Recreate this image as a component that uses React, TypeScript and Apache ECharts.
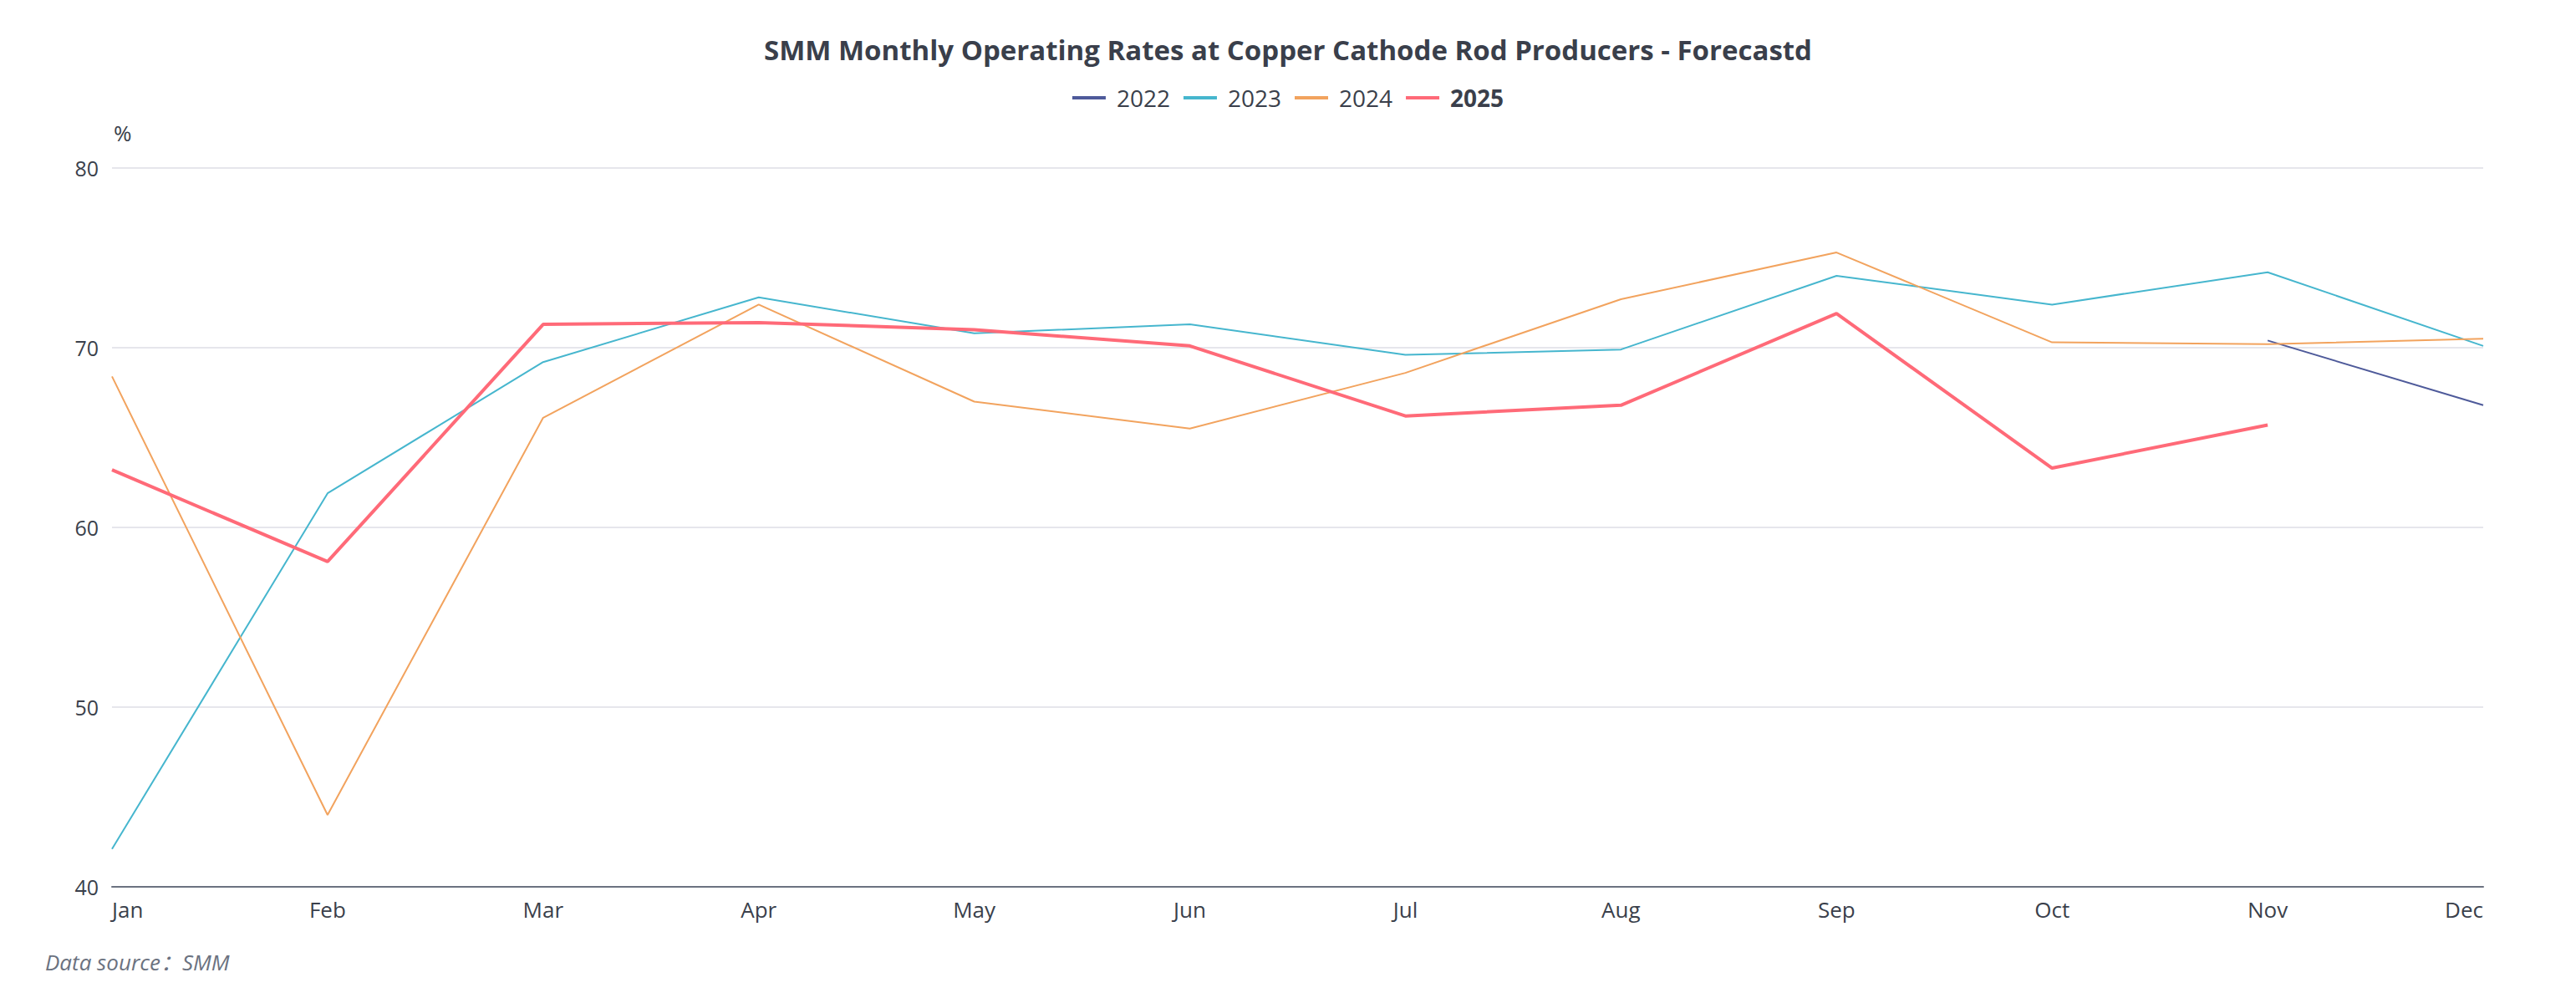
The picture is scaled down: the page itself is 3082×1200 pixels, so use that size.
import React, { useEffect, useRef } from "react";
import * as echarts from "echarts";

const months = ["Jan", "Feb", "Mar", "Apr", "May", "Jun", "Jul", "Aug", "Sep", "Oct", "Nov", "Dec"];
const seriesNames = ["2022", "2023", "2024", "2025"];
const data2022 = [null, null, null, null, null, null, null, null, null, null, 70.4, 66.8];
const data2023 = [42.1, 61.9, 69.2, 72.8, 70.8, 71.3, 69.6, 69.9, 74.0, 72.4, 74.2, 70.1];
const data2024 = [68.4, 44.0, 66.1, 72.4, 67.0, 65.5, 68.6, 72.7, 75.3, 70.3, 70.2, 70.5];
const data2025 = [63.2, 58.1, 71.3, 71.4, 71.0, 70.1, 66.2, 66.8, 71.9, 63.3, 65.7, null];
const yTicks = { min: 40, max: 80, interval: 10 };
const colors = ["#4e5a9a", "#46b6ce", "#f2a35e", "#ff6a78"];

const FONT = "'Open Sans', 'Noto Sans', 'Noto Sans CJK SC', sans-serif";
const TEXT = "#3a3f4b";

export default function App() {
  const ref = useRef<HTMLDivElement>(null);
  useEffect(() => {
    if (!ref.current) return;
    const chart = echarts.init(ref.current, null, { renderer: "svg" });
    const allData = [data2022, data2023, data2024, data2025];
    chart.setOption({
      animation: false,
      color: colors,
      textStyle: { fontFamily: FONT },
      title: {
        text: "SMM Monthly Operating Rates at Copper Cathode Rod Producers - Forecastd",
        left: "center",
        top: 30,
        textStyle: { fontFamily: FONT, fontSize: 33, fontWeight: "bold", color: TEXT },
      },
      legend: {
        top: 90,
        left: "center",
        icon: "rect",
        itemWidth: 40,
        itemHeight: 4,
        itemGap: 16,
        textStyle: { fontFamily: FONT, fontSize: 28, color: TEXT, padding: [0, 0, 0, 8] },
        data: seriesNames.map((n, i) =>
          i === 3 ? { name: n, textStyle: { fontWeight: "bold" } } : { name: n }
        ),
      },
      grid: { left: 126, right: 103, top: 193, bottom: 131 },
      xAxis: {
        type: "category",
        data: months,
        boundaryGap: false,
        axisTick: { show: false },
        axisLine: { lineStyle: { color: "#6b7280", width: 2 } },
        axisLabel: {
          fontFamily: FONT,
          fontSize: 26,
          color: TEXT,
          margin: 14,
          alignMinLabel: "left",
          alignMaxLabel: "right",
        },
      },
      yAxis: {
        type: "value",
        min: yTicks.min,
        max: yTicks.max,
        interval: yTicks.interval,
        name: "%",
        nameGap: 42,
        nameTextStyle: {
          fontFamily: FONT,
          fontSize: 26,
          color: TEXT,
          align: "left",
          verticalAlign: "middle",
          padding: [0, 0, 0, 2],
        },
        axisLine: { show: false },
        axisTick: { show: false },
        axisLabel: { fontFamily: FONT, fontSize: 25, color: TEXT, margin: 16 },
        splitLine: { lineStyle: { color: "#e6e6ec", width: 2 } },
      },
      series: seriesNames.map((n, i) => ({
        name: n,
        type: "line",
        data: allData[i],
        showSymbol: false,
        symbol: "none",
        lineStyle: { width: i === 3 ? 4 : 2 },
        z: i === 3 ? 5 : 2,
      })),
      graphic: [
        {
          type: "text",
          left: 46,
          top: 1130,
          style: {
            text: "Data source：SMM",
            font: `italic 26px ${FONT}`,
            fill: "#6b7280",
          },
        },
      ],
    });
    return () => chart.dispose();
  }, []);
  return <div ref={ref} style={{ width: 3066, height: 1184 }} />;
}
